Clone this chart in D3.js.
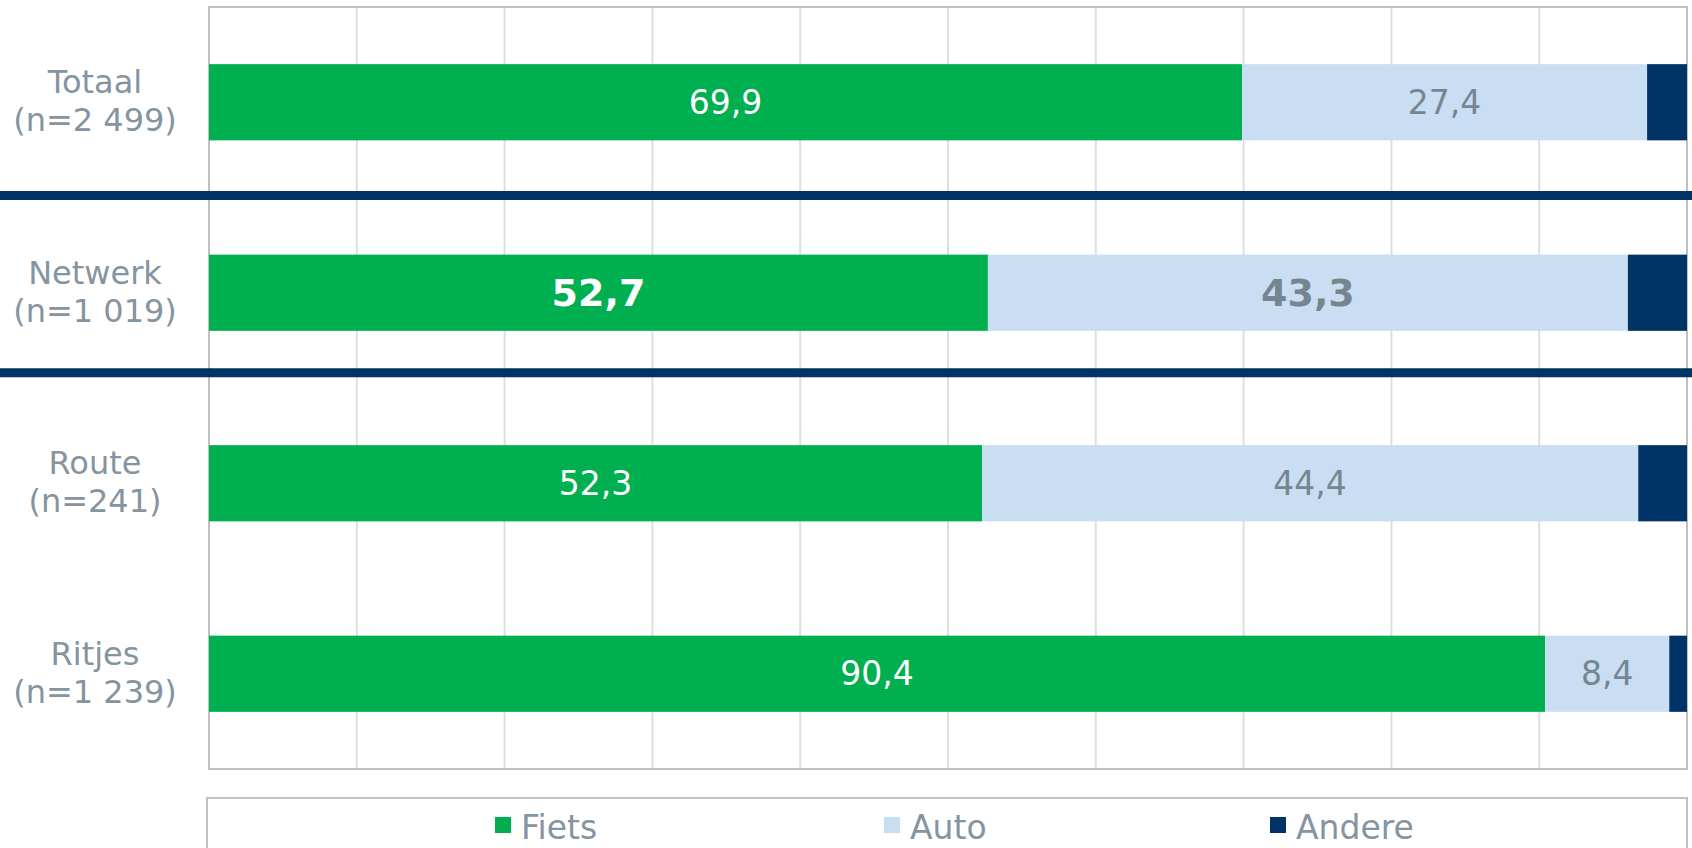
<!DOCTYPE html>
<html>
<head>
<meta charset="utf-8">
<script src="https://cdn.jsdelivr.net/npm/d3@7"></script>
<style>
  html, body { margin: 0; padding: 0; background: #fff; }
  svg { display: block; font-family: "DejaVu Sans", Verdana, sans-serif; }
</style>
</head>
<body>
<svg id="chart" width="1692" height="848"></svg>
<script>
const categories = ["Totaal", "Netwerk", "Route", "Ritjes"];
const sampleSizes = ["(n=2 499)", "(n=1 019)", "(n=241)", "(n=1 239)"];
const seriesNames = ["Fiets", "Auto", "Andere"];
const fiets = [69.9, 52.7, 52.3, 90.4];
const auto = [27.4, 43.3, 44.4, 8.4];
const andere = [2.7, 4.0, 3.3, 1.2];
const boldRow = "Netwerk";
const xTicks = [0, 10, 20, 30, 40, 50, 60, 70, 80, 90, 100];

const colors = { Fiets: "#00B050", Auto: "#C9DEF3", Andere: "#003366" };
const labelColors = { Fiets: "#FFFFFF", Auto: "#768690" };
const textGrey = "#8594A1";

const svg = d3.select("#chart");
const W = 1692, H = 848;
const m = { left: 209, right: 5, top: 7, bottom: 79 };

const x = d3.scaleLinear().domain([0, 100]).range([m.left, W - m.right]);
const y = d3.scaleBand().domain(categories).range([m.top, H - m.bottom])
  .paddingInner(0.6).paddingOuter(0.3);

const rows = categories.map((c, i) => ({ cat: c, Fiets: fiets[i], Auto: auto[i], Andere: andere[i] }));
const stack = d3.stack().keys(seriesNames)(rows);

// gridlines
svg.append("g").selectAll("line").data(xTicks.slice(1, -1)).join("line")
  .attr("x1", d => x(d)).attr("x2", d => x(d))
  .attr("y1", m.top).attr("y2", H - m.bottom)
  .attr("stroke", "#DEDFE3").attr("stroke-width", 2);

// plot border
svg.append("rect")
  .attr("x", x(0)).attr("y", m.top)
  .attr("width", x(100) - x(0)).attr("height", H - m.bottom - m.top)
  .attr("fill", "none").attr("stroke", "#C0C0C0").attr("stroke-width", 2);

// bars
const layers = svg.append("g").selectAll("g").data(stack).join("g")
  .attr("fill", d => colors[d.key]);
layers.selectAll("rect").data(d => d).join("rect")
  .attr("x", d => x(d[0]))
  .attr("y", d => y(d.data.cat))
  .attr("width", d => x(d[1]) - x(d[0]))
  .attr("height", y.bandwidth());

// value labels
stack.filter(s => s.key !== "Andere").forEach(s => {
  svg.append("g").selectAll("text").data(s).join("text")
    .attr("x", d => (x(d[0]) + x(d[1])) / 2)
    .attr("y", d => y(d.data.cat) + y.bandwidth() / 2)
    .attr("text-anchor", "middle")
    .attr("dominant-baseline", "central")
    .attr("fill", labelColors[s.key])
    .attr("font-size", d => d.data.cat === boldRow ? 38 : 33)
    .attr("font-weight", d => d.data.cat === boldRow ? "bold" : "normal")
    .text(d => d3.format(".1f")(d[1] - d[0]).replace(".", ","));
});

// separators
const step = y.step();
[0.99, 1.92].forEach(f => {
  svg.append("line")
    .attr("x1", 0).attr("x2", W)
    .attr("y1", m.top + step * f).attr("y2", m.top + step * f)
    .attr("stroke", colors.Andere).attr("stroke-width", 9);
});

// category labels
const catG = svg.append("g").selectAll("text").data(categories).join("text")
  .attr("x", 95)
  .attr("y", d => y(d) + y.bandwidth() / 2)
  .attr("text-anchor", "middle")
  .attr("fill", textGrey)
  .attr("font-size", 32);
catG.append("tspan").attr("x", 95).attr("dy", -9).text(d => d);
catG.append("tspan").attr("x", 95).attr("dy", 38).text((d, i) => sampleSizes[i]);

// legend
svg.append("rect")
  .attr("x", 207).attr("y", 798).attr("width", 1480).attr("height", 70)
  .attr("fill", "none").attr("stroke", "#C0C0C0").attr("stroke-width", 2);
const legX = [495, 884, 1270];
const leg = svg.append("g").selectAll("g").data(seriesNames).join("g")
  .attr("transform", (d, i) => `translate(${legX[i]},817)`);
leg.append("rect").attr("width", 16).attr("height", 16).attr("fill", d => colors[d]);
leg.append("text").attr("x", 26).attr("y", 10)
  .attr("dominant-baseline", "central")
  .attr("fill", textGrey).attr("font-size", 33).text(d => d);
</script>
</body>
</html>
